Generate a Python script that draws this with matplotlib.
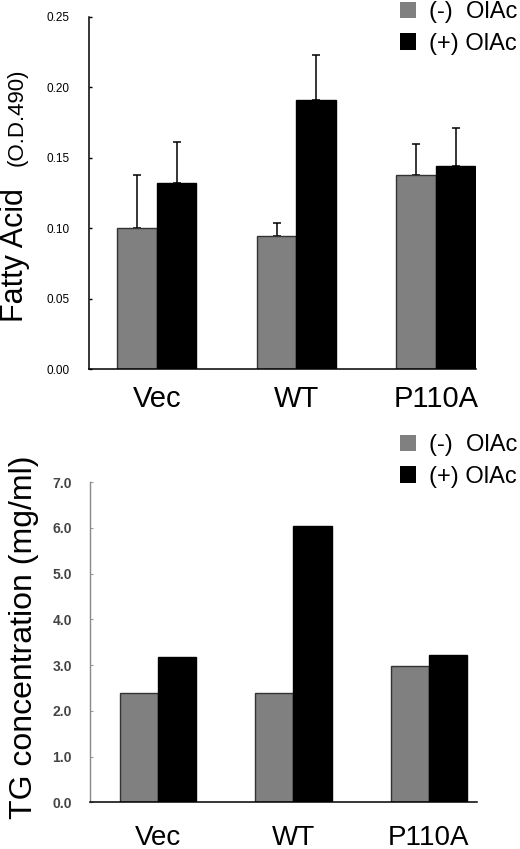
import numpy as np
import matplotlib
matplotlib.use("Agg")
import matplotlib.pyplot as plt
from matplotlib.patches import Patch

plt.rcParams["font.family"] = ["Liberation Sans", "DejaVu Sans"]

# data
groups = ["Vec", "WT", "P110A"]
series = ["(-)  OlAc", "(+) OlAc"]
fa_neg = [0.100, 0.0945, 0.138]
fa_neg_err = [0.038, 0.009, 0.022]
fa_pos = [0.132, 0.191, 0.1444]
fa_pos_err = [0.029, 0.032, 0.0265]
fa_ticks = [0.00, 0.05, 0.10, 0.15, 0.20, 0.25]

tg_neg = [2.40, 2.40, 2.98]
tg_pos = [3.17, 6.05, 3.22]
tg_ticks = [0.0, 1.0, 2.0, 3.0, 4.0, 5.0, 6.0, 7.0]

GRAY = "#808080"
W = 0.283
fig = plt.figure(figsize=(5.2, 8.49), dpi=100)
x = np.arange(len(groups))


def legend(ax, y_top):
    handles = [Patch(facecolor=GRAY, edgecolor="none"),
               Patch(facecolor="black", edgecolor="none")]
    ax.legend(handles, series, loc="upper left",
              bbox_to_anchor=(400 / 520, 1 - y_top / 849),
              bbox_transform=fig.transFigure, frameon=False, fontsize=17,
              handlelength=0.68, handleheight=0.68, handletextpad=0.55,
              labelspacing=0.41, borderpad=0, borderaxespad=0)


# ---- top: fatty acid
ax1 = fig.add_axes([0.1712, 0.565, 0.744, 0.415])
ax1.bar(x - W / 2, fa_neg, W, color=GRAY, edgecolor="#333333", lw=1, zorder=2)
ax1.bar(x + W / 2, fa_pos, W, color="black", edgecolor="black", lw=1, zorder=2)
ax1.errorbar(x - W / 2, fa_neg, yerr=[np.zeros(3), fa_neg_err], fmt="none",
             ecolor="black", elinewidth=1.1, capsize=2.9, capthick=1.1, zorder=1)
ax1.errorbar(x + W / 2, fa_pos, yerr=[np.zeros(3), fa_pos_err], fmt="none",
             ecolor="black", elinewidth=1.1, capsize=2.9, capthick=1.1, zorder=1)
ax1.set_xlim(-0.487, 2.287)
ax1.set_ylim(0, 0.25)
ax1.set_yticks(fa_ticks)
ax1.set_yticklabels([f"{t:.2f}" for t in fa_ticks], fontsize=8.5)
ax1.set_xticks(x)
ax1.set_xticklabels(groups, fontsize=21)
ax1.tick_params(axis="y", direction="in", length=2.5, width=1, pad=14)
ax1.tick_params(axis="x", length=0, pad=11)
for s in ["top", "right"]:
    ax1.spines[s].set_visible(False)
for s in ["left", "bottom"]:
    ax1.spines[s].set_linewidth(1.1)
legend(ax1, 1)
fig.text(23 / 520, 1 - 255 / 849, "Fatty Acid", rotation=90, fontsize=22,
         ha="center", va="baseline", rotation_mode="anchor")
fig.text(23 / 520, 1 - 117 / 849, "(O.D.490)", rotation=90, fontsize=16,
         ha="center", va="baseline", rotation_mode="anchor")

# ---- bottom: TG concentration
ax2 = fig.add_axes([0.173, 0.055, 0.7437, 0.377])
ax2.bar(x - W / 2, tg_neg, W, color=GRAY, edgecolor="#333333", lw=1, zorder=2)
ax2.bar(x + W / 2, tg_pos, W, color="black", edgecolor="black", lw=1, zorder=2)
ax2.set_xlim(-0.502, 2.352)
ax2.set_ylim(0, 7)
ax2.set_yticks(tg_ticks)
ax2.set_yticklabels([f"{t:.1f}" for t in tg_ticks], fontsize=10,
                    color="#444444", fontweight="bold")
ax2.set_xticks(x)
ax2.set_xticklabels(groups, fontsize=20)
ax2.tick_params(axis="y", direction="in", length=2.5, width=0.8,
                color="#999999", pad=13)
ax2.tick_params(axis="x", length=0, pad=16)
for s in ["top", "right"]:
    ax2.spines[s].set_visible(False)
ax2.spines["left"].set_color("#888888")
ax2.spines["left"].set_linewidth(1)
ax2.spines["bottom"].set_linewidth(1.1)
legend(ax2, 434)
fig.text(32 / 520, 1 - 637 / 849, "TG concentration (mg/ml)", rotation=90,
         fontsize=23, ha="center", va="baseline", rotation_mode="anchor")

fig.savefig("out.png", dpi=100)
